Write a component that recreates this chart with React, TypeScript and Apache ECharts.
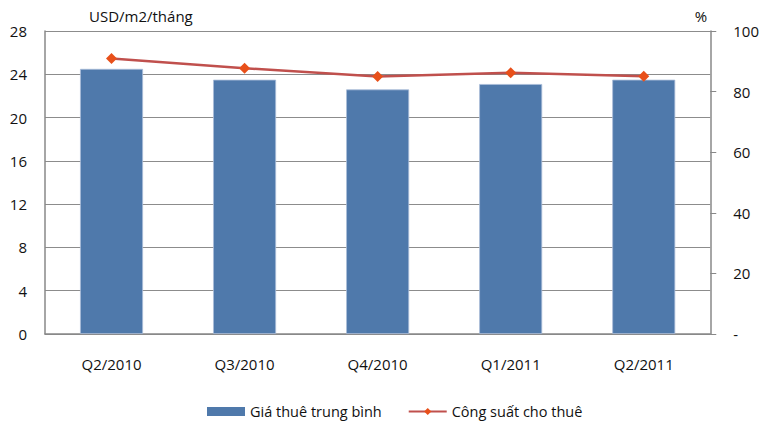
import React, { useEffect, useRef } from "react";
import * as echarts from "echarts";

const categories = ["Q2/2010", "Q3/2010", "Q4/2010", "Q1/2011", "Q2/2011"];
const rentValues = [24.5, 23.5, 22.6, 23.1, 23.5];
const occupancyValues = [90.9, 87.7, 85.0, 86.2, 85.1];
const rentName = "Giá thuê trung bình";
const occupancyName = "Công suất cho thuê";
const leftAxisName = "USD/m2/tháng";
const rightAxisName = "%";

const FONT = "'Open Sans', 'Noto Sans', sans-serif";

export default function App() {
  const ref = useRef<HTMLDivElement>(null);
  useEffect(() => {
    if (!ref.current) return;
    const chart = echarts.init(ref.current, undefined, { renderer: "svg" });
    chart.setOption({
      animation: false,
      textStyle: { fontFamily: FONT },
      grid: { left: 45, right: 49.5, top: 31, bottom: 87, containLabel: false },
      legend: {
        top: 399,
        left: 202,
        itemWidth: 38,
        itemHeight: 9,
        itemGap: 26,
        textStyle: { fontSize: 14.5, color: "#111", fontFamily: FONT },
        data: [
          { name: rentName, icon: "rect", itemStyle: { borderWidth: 0 } },
          { name: occupancyName },
        ],
      },
      xAxis: {
        type: "category",
        data: categories,
        axisLine: { lineStyle: { color: "#888", width: 1.5 } },
        axisTick: { show: false },
        axisLabel: { color: "#111", fontSize: 15, margin: 22 },
      },
      yAxis: [
        {
          type: "value",
          min: 0,
          max: 28,
          interval: 4,
          name: leftAxisName,
          nameLocation: "end",
          nameGap: 8,
          nameTextStyle: { align: "left", color: "#111", fontSize: 15, padding: [0, 0, 0, 44] },
          axisLine: { show: true, lineStyle: { color: "#888", width: 1.5 } },
          axisTick: { show: false },
          axisLabel: { color: "#111", fontSize: 15, margin: 18 },
          splitLine: { show: true, lineStyle: { color: "#8c8c8c", width: 1.2 } },
        },
        {
          type: "value",
          min: 0,
          max: 100,
          interval: 20,
          name: rightAxisName,
          nameLocation: "end",
          nameGap: 8,
          nameTextStyle: { align: "right", color: "#111", fontSize: 15, padding: [0, 3, 0, 0] },
          position: "right",
          axisLine: { show: true, lineStyle: { color: "#888", width: 1.5 } },
          axisTick: { show: true, length: 6, lineStyle: { color: "#888" } },
          axisLabel: {
            color: "#111",
            fontSize: 15,
            margin: 23,
            formatter: (v: number) => (v === 0 ? "-" : String(v)),
          },
          splitLine: { show: false },
        },
      ],
      series: [
        {
          name: rentName,
          type: "bar",
          data: rentValues,
          yAxisIndex: 0,
          barWidth: 63,
          itemStyle: { color: "#4F79AB", borderColor: "#A9BDD8", borderWidth: 0.8 },
        },
        {
          name: occupancyName,
          type: "line",
          data: occupancyValues,
          yAxisIndex: 1,
          symbol: "diamond",
          symbolSize: 11,
          lineStyle: { color: "#C0504D", width: 2.5 },
          itemStyle: { color: "#E8501A" },
        },
      ],
    });
    return () => chart.dispose();
  }, []);
  return (
    <div
      ref={ref}
      style={{ position: "absolute", left: 0, top: 0, width: 762, height: 421 }}
    />
  );
}
